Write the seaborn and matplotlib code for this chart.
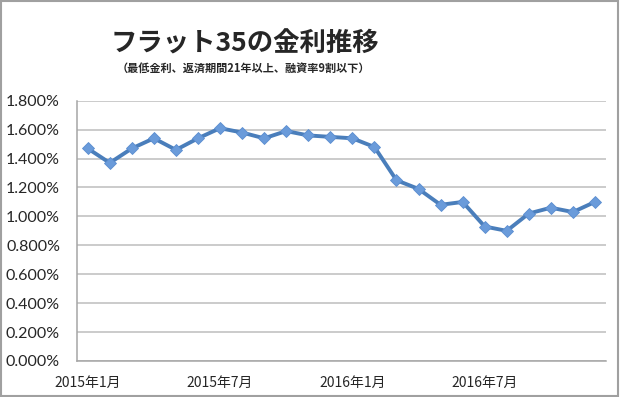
import matplotlib
matplotlib.use("Agg")
import matplotlib.pyplot as plt
import seaborn as sns
import pandas as pd
from matplotlib.patches import Rectangle
from matplotlib.ticker import FuncFormatter, FixedLocator

months = ["2015年1月", "2015年2月", "2015年3月", "2015年4月", "2015年5月", "2015年6月",
          "2015年7月", "2015年8月", "2015年9月", "2015年10月", "2015年11月", "2015年12月",
          "2016年1月", "2016年2月", "2016年3月", "2016年4月", "2016年5月", "2016年6月",
          "2016年7月", "2016年8月", "2016年9月", "2016年10月", "2016年11月", "2016年12月"]
rates = [1.47, 1.37, 1.47, 1.54, 1.46, 1.54, 1.61, 1.58, 1.54, 1.59, 1.56, 1.55,
         1.54, 1.48, 1.25, 1.19, 1.08, 1.10, 0.93, 0.90, 1.02, 1.06, 1.03, 1.10]
tick_labels = ["2015年1月", "2015年7月", "2016年1月", "2016年7月"]
title = "フラット35の金利推移"
subtitle = "（最低金利、返済期間21年以上、融資率9割以下）"

sns.set_style("white")
plt.rcParams['font.family'] = ['Noto Sans CJK JP', 'DejaVu Sans']

df = pd.DataFrame({"idx": range(len(months)), "month": months, "rate": rates})

fig = plt.figure(figsize=(6.2, 3.97), dpi=100)
ax = fig.add_axes([0.1237, 0.0907, 0.9774 - 0.1237, 0.7463 - 0.0907])

sns.lineplot(data=df, x="idx", y="rate", ax=ax, color="#4A7EBB", linewidth=2.8,
             marker="D", markersize=6, markerfacecolor="#6A9BDA",
             markeredgecolor="#5A8DD0", markeredgewidth=0.6, zorder=3)

ax.set_xlim(-0.5, len(months) - 0.5)
ax.set_ylim(0, 1.8)
ax.set_yticks([0, 0.2, 0.4, 0.6, 0.8, 1.0, 1.2, 1.4, 1.6, 1.8])
ax.yaxis.set_major_formatter(FuncFormatter(lambda v, p: f"{v:.3f}%"))
ax.grid(axis="y", color="#BDBDBD", linewidth=1.1)
ax.grid(axis="x", visible=False)
ax.set_axisbelow(True)

pos = [months.index(t) for t in tick_labels]
ax.set_xticks(pos)
ax.set_xticklabels(tick_labels, fontsize=10, family=['Noto Sans CJK JP', 'DejaVu Sans'])
ax.tick_params(axis="x", which="major", length=0, pad=11)
ax.xaxis.set_minor_locator(FixedLocator([-0.5, 5.5, 11.5, 17.5, 23.5]))
ax.tick_params(axis="x", which="minor", length=5, color="#A6A6A6", width=1)
ax.tick_params(axis="y", length=5, color="#A6A6A6", width=1, pad=7)
for lab in ax.get_yticklabels():
    lab.set_family(['Lato', 'DejaVu Sans'])
    lab.set_fontsize(11.5)

ax.set_xlabel("")
ax.set_ylabel("")
for s in ["top", "right"]:
    ax.spines[s].set_visible(False)
for s in ["left", "bottom"]:
    ax.spines[s].set_color("#A6A6A6")
    ax.spines[s].set_linewidth(1.1)

fig.text(0.395, 0.89, title, ha="center", va="center", fontsize=19, fontweight="bold",
         family=['Noto Sans CJK JP', 'DejaVu Sans'])
fig.text(0.392, 0.829, subtitle, ha="center", va="center", fontsize=8, fontweight="bold",
         family=['Noto Sans CJK JP', 'DejaVu Sans'])

fig.patches.append(Rectangle((0.002, 0.003), 0.995, 0.994, transform=fig.transFigure,
                             fill=False, edgecolor="#A0A0A0", linewidth=1.5))

fig.savefig("out.png", dpi=100)
